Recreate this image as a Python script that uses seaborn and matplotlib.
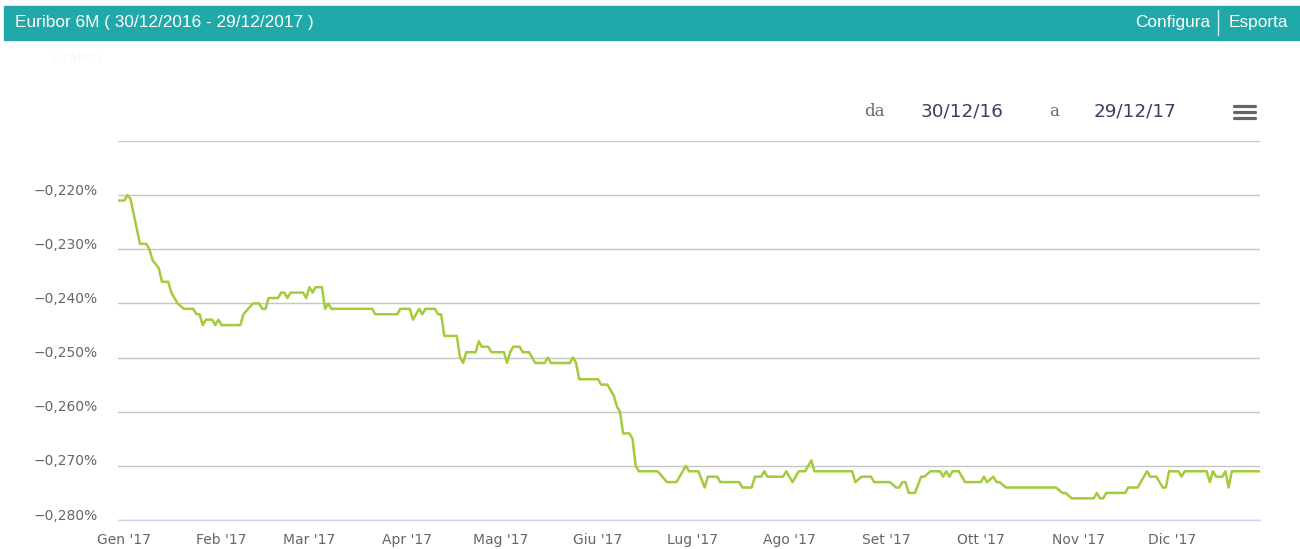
import pandas as pd
import matplotlib
matplotlib.use("Agg")
import matplotlib.pyplot as plt
from matplotlib.transforms import ScaledTranslation
from matplotlib.patches import Rectangle
from matplotlib.lines import Line2D
import seaborn as sns

# Euribor 6M, valori (%)
rate_dates = [
    "2016-12-30", "2017-01-01", "2017-01-02", "2017-01-03", "2017-01-06", "2017-01-08",
    "2017-01-09", "2017-01-10", "2017-01-12", "2017-01-13", "2017-01-15", "2017-01-16",
    "2017-01-18", "2017-01-20", "2017-01-23", "2017-01-24", "2017-01-25", "2017-01-26",
    "2017-01-27", "2017-01-29", "2017-01-30", "2017-01-31", "2017-02-01", "2017-02-07",
    "2017-02-08", "2017-02-11", "2017-02-13", "2017-02-14", "2017-02-15", "2017-02-16",
    "2017-02-19", "2017-02-20", "2017-02-21", "2017-02-22", "2017-02-23", "2017-02-27",
    "2017-02-28", "2017-03-01", "2017-03-02", "2017-03-03", "2017-03-05", "2017-03-06",
    "2017-03-07", "2017-03-08", "2017-03-21", "2017-03-22", "2017-03-29", "2017-03-30",
    "2017-04-02", "2017-04-03", "2017-04-05", "2017-04-06", "2017-04-07", "2017-04-10",
    "2017-04-11", "2017-04-12", "2017-04-13", "2017-04-17", "2017-04-18", "2017-04-19",
    "2017-04-20", "2017-04-23", "2017-04-24", "2017-04-25", "2017-04-27", "2017-04-28",
    "2017-05-02", "2017-05-03", "2017-05-04", "2017-05-05", "2017-05-07", "2017-05-08",
    "2017-05-10", "2017-05-12", "2017-05-15", "2017-05-16", "2017-05-17", "2017-05-23",
    "2017-05-24", "2017-05-25", "2017-05-26", "2017-06-01", "2017-06-02", "2017-06-04",
    "2017-06-06", "2017-06-07", "2017-06-08", "2017-06-09", "2017-06-11", "2017-06-12",
    "2017-06-13", "2017-06-14", "2017-06-20", "2017-06-23", "2017-06-26", "2017-06-29",
    "2017-06-30", "2017-07-03", "2017-07-05", "2017-07-06", "2017-07-09", "2017-07-10",
    "2017-07-16", "2017-07-17", "2017-07-20", "2017-07-21", "2017-07-23", "2017-07-24",
    "2017-07-25", "2017-07-30", "2017-07-31", "2017-08-02", "2017-08-04", "2017-08-06",
    "2017-08-08", "2017-08-09", "2017-08-21", "2017-08-22", "2017-08-24", "2017-08-27",
    "2017-08-28", "2017-09-02", "2017-09-04", "2017-09-05", "2017-09-06", "2017-09-07",
    "2017-09-08", "2017-09-10", "2017-09-12", "2017-09-13", "2017-09-15", "2017-09-18",
    "2017-09-19", "2017-09-20", "2017-09-21", "2017-09-22", "2017-09-24", "2017-09-26",
    "2017-10-01", "2017-10-02", "2017-10-03", "2017-10-05", "2017-10-06", "2017-10-07",
    "2017-10-09", "2017-10-25", "2017-10-27", "2017-10-28", "2017-10-30", "2017-11-06",
    "2017-11-07", "2017-11-08", "2017-11-09", "2017-11-10", "2017-11-16", "2017-11-17",
    "2017-11-20", "2017-11-23", "2017-11-24", "2017-11-26", "2017-11-28", "2017-11-29",
    "2017-11-30", "2017-12-03", "2017-12-04", "2017-12-05", "2017-12-12", "2017-12-13",
    "2017-12-14", "2017-12-15", "2017-12-17", "2017-12-18", "2017-12-19", "2017-12-20",
    "2017-12-29",
]
rate_values = [
    -0.221, -0.221, -0.220, -0.2207, -0.229, -0.229,
    -0.230, -0.232, -0.2335, -0.236, -0.236, -0.238,
    -0.240, -0.241, -0.241, -0.242, -0.242, -0.244,
    -0.243, -0.243, -0.244, -0.243, -0.244, -0.244,
    -0.242, -0.240, -0.240, -0.241, -0.241, -0.239,
    -0.239, -0.238, -0.238, -0.239, -0.238, -0.238,
    -0.239, -0.237, -0.238, -0.237, -0.237, -0.241,
    -0.240, -0.241, -0.241, -0.242, -0.242, -0.241,
    -0.241, -0.243, -0.241, -0.242, -0.241, -0.241,
    -0.242, -0.242, -0.246, -0.246, -0.250, -0.251,
    -0.249, -0.249, -0.247, -0.248, -0.248, -0.249,
    -0.249, -0.251, -0.249, -0.248, -0.248, -0.249,
    -0.249, -0.251, -0.251, -0.250, -0.251, -0.251,
    -0.250, -0.251, -0.254, -0.254, -0.255, -0.255,
    -0.257, -0.259, -0.260, -0.264, -0.264, -0.265,
    -0.270, -0.271, -0.271, -0.273, -0.273, -0.270,
    -0.271, -0.271, -0.274, -0.272, -0.272, -0.273,
    -0.273, -0.274, -0.274, -0.272, -0.272, -0.271,
    -0.272, -0.272, -0.271, -0.273, -0.271, -0.271,
    -0.269, -0.271, -0.271, -0.273, -0.272, -0.272,
    -0.273, -0.273, -0.274, -0.274, -0.273, -0.273,
    -0.275, -0.275, -0.272, -0.272, -0.271, -0.271,
    -0.272, -0.271, -0.272, -0.271, -0.271, -0.273,
    -0.273, -0.272, -0.273, -0.272, -0.273, -0.273,
    -0.274, -0.274, -0.275, -0.275, -0.276, -0.276,
    -0.275, -0.276, -0.276, -0.275, -0.275, -0.274,
    -0.274, -0.271, -0.272, -0.272, -0.274, -0.274,
    -0.271, -0.271, -0.272, -0.271, -0.271, -0.273,
    -0.271, -0.272, -0.272, -0.271, -0.274, -0.271,
    -0.271,
]

y_ticks = [-0.280, -0.270, -0.260, -0.250, -0.240, -0.230, -0.220]
y_tick_labels = ["\u22120,280%", "\u22120,270%", "\u22120,260%", "\u22120,250%",
                 "\u22120,240%", "\u22120,230%", "\u22120,220%"]
month_ticks = ["2017-01-01", "2017-02-01", "2017-03-01", "2017-04-01", "2017-05-01",
               "2017-06-01", "2017-07-01", "2017-08-01", "2017-09-01", "2017-10-01",
               "2017-11-01", "2017-12-01"]
month_labels = ["Gen '17", "Feb '17", "Mar '17", "Apr '17", "Mag '17", "Giu '17",
                "Lug '17", "Ago '17", "Set '17", "Ott '17", "Nov '17", "Dic '17"]

df = pd.DataFrame({"data": pd.to_datetime(rate_dates), "tasso": rate_values})

sns.set_style("white")
plt.rcParams["font.family"] = ["DejaVu Sans"]

W, H = 1300, 549
fig = plt.figure(figsize=(W / 100, H / 100), dpi=100)
fig.patch.set_facecolor("white")


def fx(px):
    return px / W


def fy(py):
    return 1 - py / H


# barra del titolo
fig.patches.append(Rectangle((fx(4), fy(40)), 1 - fx(4), fy(6) - fy(40),
                             transform=fig.transFigure, color="#21a8a8", zorder=0))
fig.text(fx(15), fy(23), "Euribor 6M ( 30/12/2016 - 29/12/2017 )", color="white",
         fontsize=12.4, family="Liberation Sans", va="center", ha="left")
fig.text(fx(1210), fy(23), "Configura", color="white", fontsize=12.4,
         family="Liberation Sans", va="center", ha="right")
fig.text(fx(1288), fy(23), "Esporta", color="white", fontsize=12.4,
         family="Liberation Sans", va="center", ha="right")
fig.lines.append(Line2D([fx(1218), fx(1218)], [fy(10), fy(35)], transform=fig.transFigure,
                        color="#d8f0f0", linewidth=1))
fig.text(fx(52), fy(58), "Grafico", color="#f8f8f8", fontsize=11,
         family="Liberation Sans", va="center")

# selettore periodo
fig.text(fx(864), fy(111), "da", color="#666666", fontsize=12,
         family="DejaVu Serif", va="center")
fig.text(fx(921), fy(111), "30/12/16", color="#3a4160", fontsize=13.2, va="center")
fig.text(fx(1049), fy(111), "a", color="#666666", fontsize=12,
         family="DejaVu Serif", va="center")
fig.text(fx(1094), fy(111), "29/12/17", color="#3a4160", fontsize=13.2, va="center")
for yy in (106, 112, 118):
    fig.lines.append(Line2D([fx(1234), fx(1255)], [fy(yy), fy(yy)], transform=fig.transFigure,
                            color="#666666", linewidth=2.3, solid_capstyle="round"))

# area del grafico
ax = fig.add_axes([fx(118), fy(520), fx(1260) - fx(118), fy(141) - fy(520)])
sns.lineplot(data=df, x="data", y="tasso", ax=ax, color="#a4cb3c", linewidth=1.8, zorder=3)

ax.set_xlim(pd.Timestamp("2016-12-30"), pd.Timestamp("2017-12-29"))
ax.set_ylim(-0.280, -0.210)
ax.set_xlabel("")
ax.set_ylabel("")

ax.set_yticks(y_ticks)
ax.set_yticklabels(y_tick_labels)
ax.grid(axis="y", color="#c6c6c6", linewidth=1)
ax.axhline(-0.210, color="#c6c6c6", linewidth=1, zorder=1)
ax.tick_params(axis="y", length=0, pad=14.4, labelsize=10, labelcolor="#666666")
for lab in ax.get_yticklabels():
    lab.set_transform(lab.get_transform() + ScaledTranslation(0, 0.06, fig.dpi_scale_trans))

ax.set_xticks(pd.to_datetime(month_ticks))
ax.set_xticklabels(month_labels)
ax.tick_params(axis="x", length=7, width=1, color="#ccd6eb", direction="out", pad=2.5,
               labelsize=10, labelcolor="#666666")

for side in ("top", "right", "left"):
    ax.spines[side].set_visible(False)
ax.spines["bottom"].set_color("#ccd6eb")
ax.spines["bottom"].set_linewidth(1)
ax.spines["bottom"].set_zorder(2)

fig.savefig("out.png", dpi=100)
